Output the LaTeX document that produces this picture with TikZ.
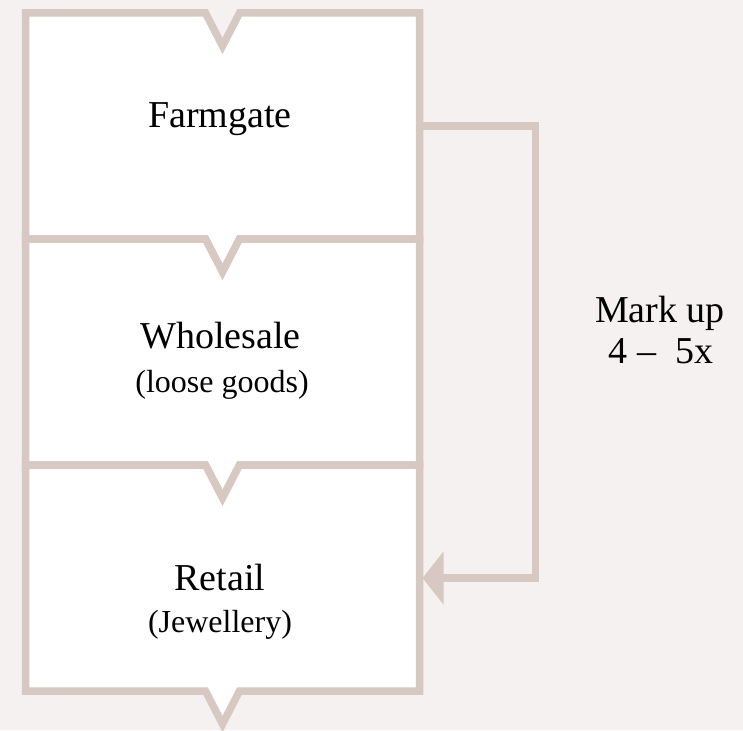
\documentclass[tikz,border=0pt]{standalone}
\usepackage{fontspec}
\setmainfont{Liberation Serif}
\usetikzlibrary{arrows.meta}
\definecolor{bgc}{RGB}{245,241,240}
\definecolor{linec}{RGB}{215,200,194}
\newcommand\chevbox[1]{%
  \path[boxframe] (#1.north west) -- ([xshift=-17pt]#1.north) -- ([yshift=-33pt]#1.north)
    -- ([xshift=17pt]#1.north) -- (#1.north east) -- (#1.south east)
    -- ([xshift=17pt]#1.south) -- ([yshift=-33pt]#1.south) -- ([xshift=-17pt]#1.south)
    -- (#1.south west) -- cycle;}
\begin{document}
\begin{tikzpicture}[x=1pt,y=-1pt,
  boxframe/.style={draw=linec, line width=7.5pt, fill=white, miter limit=10, line join=miter},
  title/.style={anchor=base, font=\fontsize{38}{44}\selectfont, text=black, inner sep=0pt},
  sub/.style={anchor=base, font=\fontsize{32}{38}\selectfont, text=black, inner sep=0pt},
  area/.style={minimum width=394pt, minimum height=226pt, inner sep=0pt, outer sep=0pt},
  markarrow/.style={draw=linec, line width=7.5pt, line join=miter, -{Triangle[length=21pt,width=52pt,fill=linec]}},
]
\fill[bgc] (0,0) rectangle (743,730);
\useasboundingbox (0,0) rectangle (743,730);

\node[area] (b1) at (222.5,126) {};
\node[area] (b2) at (222.5,352) {};
\node[area] (b3) at (222.5,578) {};

\chevbox{b1}
\chevbox{b2}
\chevbox{b3}

\draw[markarrow] (b1.east) -- ++(116,0) |- ([xshift=3pt]b3.east);

\node[title] (t1) at (220,128) {Farmgate};
\node[title] (t2) at (220.5,348) {Wholesale};
\node[sub] (s2) at (222,392) {(loose goods)};
\node[title] (t3) at (220,590) {Retail};
\node[sub] (s3) at (220,632) {(Jewellery)};

\node[title] (m1) at (660,322) {Mark up};
\node[title] (m2) at (661,363) {4 –\ \ 5x};
\end{tikzpicture}
\end{document}
